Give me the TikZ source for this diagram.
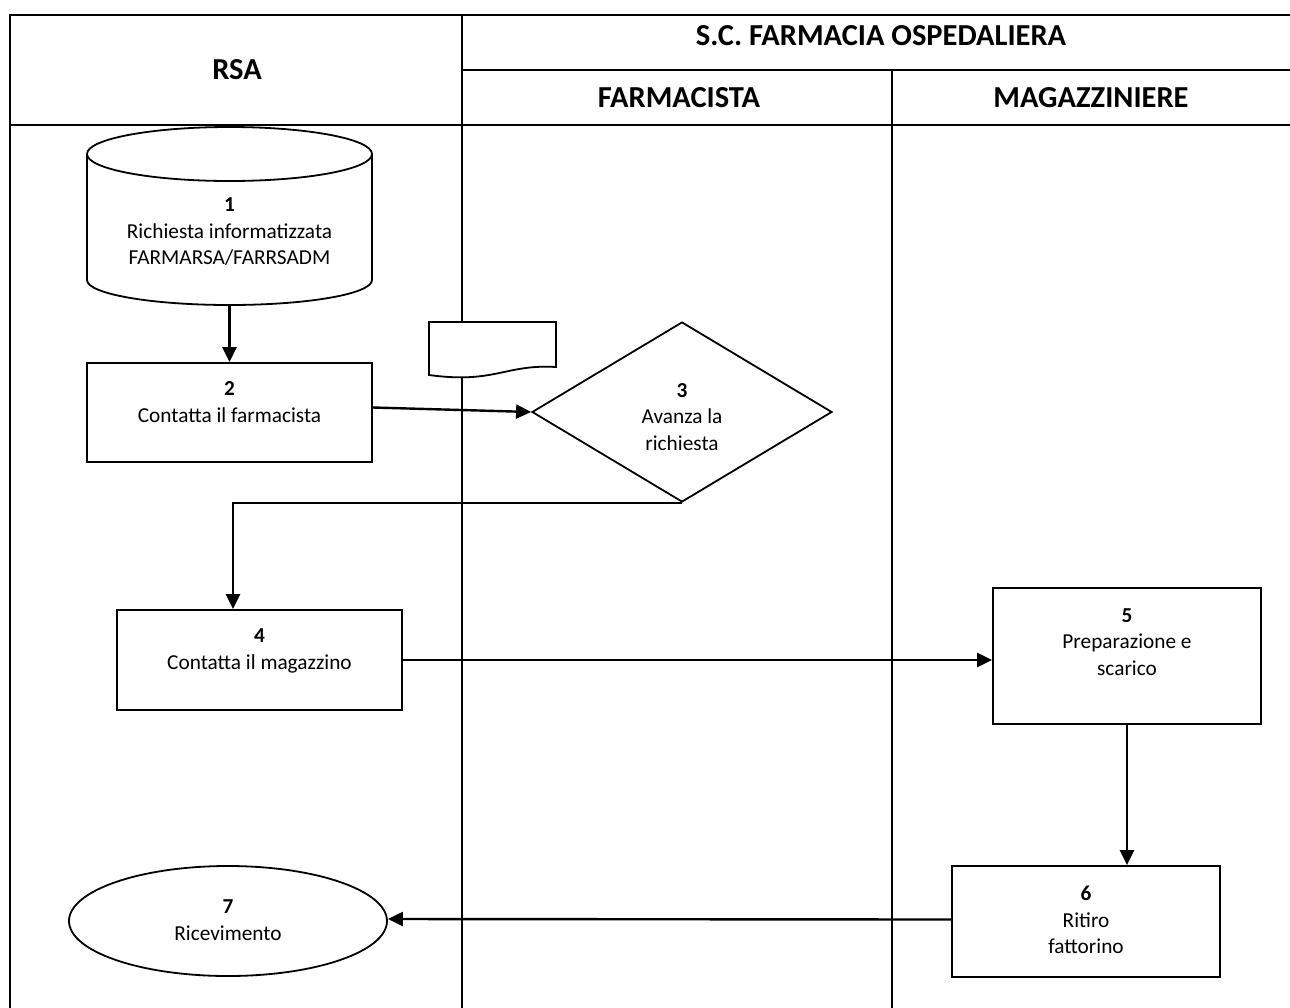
\documentclass[tikz,border=0pt]{standalone}
\usepackage{fontspec}
\setmainfont{Carlito}
\usetikzlibrary{arrows.meta,shapes.geometric,calc}
\begin{document}
\begin{tikzpicture}[x=1pt,y=-1pt,
  grid/.style={line width=2.6pt,line cap=rect},
  shp/.style={draw,line width=1.8pt,fill=white},
  boxn/.style={shp,rectangle,inner sep=0pt},
  txt/.style={align=center,inner sep=0pt,font=\fontsize{21.3}{26.5}\selectfont},
  hdr/.style={inner sep=0pt,font=\bfseries\fontsize{30.5}{34}\selectfont},
  conn/.style={line width=2.4pt,-{Triangle[length=15pt,width=14pt]}},
  plain/.style={line width=2.4pt}]
\useasboundingbox (0,0) rectangle (1290,1007);
% swimlane grid
\draw[grid] (10,1010) -- (10,15) -- (1292,15);
\draw[grid] (462,70) -- (1292,70);
\draw[grid] (10,125) -- (1292,125);
\draw[grid] (462,15) -- (462,1010);
\draw[grid] (892,70) -- (892,1010);
% headers
\node[hdr] (hRSA) at (237,70) {RSA};
\node[hdr] (hSC) at (881,36) {S.C. FARMACIA OSPEDALIERA};
\node[hdr] (hFA) at (679,98) {FARMACISTA};
\node[hdr] (hMA) at (1091,98) {MAGAZZINIERE};
% 1 cylinder
\draw[shp] (87,154) -- (87,280) arc[start angle=180,end angle=0,x radius=142.5,y radius=25] -- (372,154)
  arc[start angle=0,end angle=-180,x radius=142.5,y radius=27] -- cycle;
\draw[line width=1.8pt] (87,154) arc[start angle=180,end angle=0,x radius=142.5,y radius=27];
\node[txt] (n1) at (229.5,232) {\textbf{1}\\Richiesta informatizzata\\FARMARSA/FARRSADM};
\coordinate (n1b) at (229.5,305);
% 2
\node[boxn,minimum width=285pt,minimum height=99pt] (b2) at (229.5,412.5) {};
\node[txt] (t2) at (229.5,402) {\textbf{2}\\Contatta il farmacista};
% document shape
\draw[shp] (429,375) -- (429,322) -- (556,322) -- (556,367)
  .. controls (505,364) and (495,384) .. (429,375) -- cycle;
\coordinate (doc) at (492,345);
% 3 diamond
\node[shp,diamond,minimum width=300pt,minimum height=180pt,inner sep=0pt] (d3) at (682,412) {};
\node[txt] (t3) at (682,417) {\textbf{3}\\Avanza la\\richiesta};
% 4
\node[boxn,minimum width=285pt,minimum height=100pt] (b4) at (259.5,660) {};
\node[txt] (t4) at (259.5,651) {\textbf{4}\\Contatta il magazzino};
% 5
\node[boxn,minimum width=268pt,minimum height=136pt] (b5) at (1127,656) {};
\node[txt] (t5) at (1127,642) {\textbf{5}\\Preparazione e\\scarico};
% 6
\node[boxn,minimum width=268pt,minimum height=111pt] (b6) at (1086,921.5) {};
\node[txt] (t6) at (1086,920) {\textbf{6}\\Ritiro\\fattorino};
% 7 ellipse
\node[shp,ellipse,minimum width=318pt,minimum height=110pt,inner sep=0pt] (e7) at (228,921) {};
\node[txt] (t7) at (228,920) {\textbf{7}\\Ricevimento};
% connectors
\draw[conn] (n1b) -- (b2.north);
\draw[conn] ([yshift=5pt]b2.east) -- (d3.west);
\draw[conn] (d3.south) -| ([xshift=-26.5pt]b4.north);
\draw[conn] (b4.east) -- (b4.east -| b5.west);
\draw[conn] (b5.south) -- (b5.south |- b6.north);
\draw[conn] ([yshift=2pt]b6.west) -- ([yshift=2pt]e7.east);
\end{tikzpicture}
\end{document}
